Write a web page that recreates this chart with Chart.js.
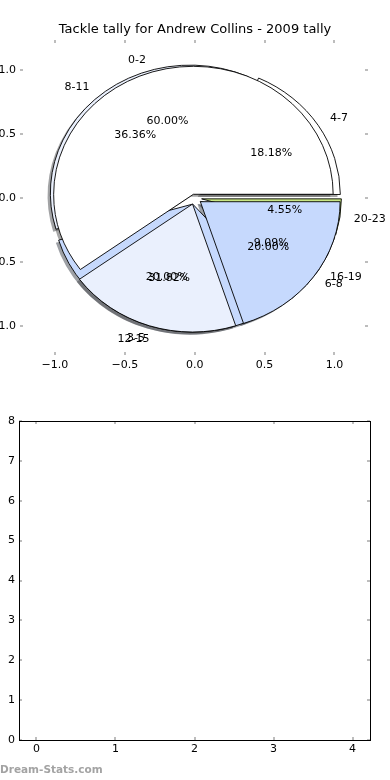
<!DOCTYPE html>
<html>
<head>
<meta charset="utf-8">
<script src="https://cdn.jsdelivr.net/npm/chart.js@4.4.1/dist/chart.umd.min.js"></script>
<style>
body { margin: 0; background: #fff; width: 390px; height: 780px; position: relative; overflow: hidden; }
#chartTop { position: absolute; left: 0; top: 0; }
#chartBottom { position: absolute; left: 0; top: 390px; }
#mark { position: absolute; left: 0; top: 763px; font: bold 10.5px "DejaVu Sans"; color: #a3a3a3; white-space: nowrap; }
</style>
</head>
<body>
<canvas id="chartTop" width="390" height="390"></canvas>
<canvas id="chartBottom" width="390" height="390"></canvas>
<div id="mark">Dream-Stats.com</div>
<script>
var chartTitle = "Tackle tally for Andrew Collins - 2009 tally";

// first pie (drawn on top)
var labelsA = ["0-2", "3-5", "6-8"];
var tallyA = [3, 1, 1];
// second pie (drawn underneath)
var labelsB = ["4-7", "8-11", "12-15", "16-19", "20-23"];
var tallyB = [4, 8, 7, 2, 1];

var pieTicks = [-1.0, -0.5, 0.0, 0.5, 1.0];
var bottomTicksX = [0, 1, 2, 3, 4];
var bottomTicksY = [0, 1, 2, 3, 4, 5, 6, 7, 8];

// styles
var coloursA = ['#ffffff', '#eaf0fd', '#c6d9fd'];
var coloursB = ['#ffffff', '#eaf0fd', '#c6d9fd', '#c6d9fd', '#c8e682'];
var explodeA = [0.03, 0.05, 0.05];
var explodeB = [0.05, 0.05, 0.05, 0.05, 0.05];

Chart.defaults.font.family = 'DejaVu Sans';
Chart.defaults.color = '#000';

function fmtTick(v) {
    var s = Math.abs(v).toFixed(1);
    return v < 0 ? '\u2212' + s : s;
}

function buildWedges(tally, explode) {
    var total = 0;
    for (var i = 0; i < tally.length; i++) total += tally[i];
    var list = [], start = 0;
    for (var i = 0; i < tally.length; i++) {
        var end = start + 360 * tally[i] / total;
        var mid = (start + end) / 2 * Math.PI / 180;
        list.push({
            a1: start, a2: end, mid: mid,
            dx: explode[i] * Math.cos(mid), dy: explode[i] * Math.sin(mid),
            pct: 100 * tally[i] / total
        });
        start = end;
    }
    return list;
}

function wedgePath(ctx, cx, cy, rx, ry, a1, a2) {
    ctx.beginPath();
    ctx.moveTo(cx, cy);
    ctx.ellipse(cx, cy, rx, ry, 0, -a1 * Math.PI / 180, -a2 * Math.PI / 180, true);
    ctx.closePath();
}

function shadowColour(hex) {
    var r = parseInt(hex.substr(1, 2), 16), g = parseInt(hex.substr(3, 2), 16), b = parseInt(hex.substr(5, 2), 16);
    return 'rgba(' + Math.round(r * 0.3) + ',' + Math.round(g * 0.3) + ',' + Math.round(b * 0.3) + ',0.5)';
}

var piePlugin = {
    id: 'pies',
    afterDatasetsDraw: function (chart) {
        var ctx = chart.ctx, xs = chart.scales.x, ys = chart.scales.y;
        var rx = xs.getPixelForValue(1) - xs.getPixelForValue(0);
        var ry = ys.getPixelForValue(0) - ys.getPixelForValue(1);
        var pies = [
            { w: buildWedges(tallyB, explodeB), c: coloursB, l: labelsB },
            { w: buildWedges(tallyA, explodeA), c: coloursA, l: labelsA }
        ];
        ctx.save();
        // shadows
        pies.forEach(function (p) {
            p.w.forEach(function (w, i) {
                wedgePath(ctx, xs.getPixelForValue(w.dx - 0.02), ys.getPixelForValue(w.dy - 0.02), rx, ry, w.a1, w.a2);
                ctx.fillStyle = shadowColour(p.c[i]);
                ctx.fill();
            });
        });
        // wedges
        pies.forEach(function (p) {
            p.w.forEach(function (w, i) {
                wedgePath(ctx, xs.getPixelForValue(w.dx), ys.getPixelForValue(w.dy), rx, ry, w.a1, w.a2);
                ctx.fillStyle = p.c[i];
                ctx.fill();
                ctx.lineWidth = 0.9;
                ctx.strokeStyle = '#000';
                ctx.stroke();
            });
        });
        // texts
        ctx.font = '11px "DejaVu Sans"';
        ctx.fillStyle = '#000';
        ctx.textBaseline = 'middle';
        pies.forEach(function (p) {
            p.w.forEach(function (w, i) {
                var xt = w.dx + 1.1 * Math.cos(w.mid), yt = w.dy + 1.1 * Math.sin(w.mid);
                ctx.textAlign = xt > 0 ? 'left' : 'right';
                ctx.fillText(p.l[i], xs.getPixelForValue(xt), ys.getPixelForValue(yt));
                var xp = w.dx + 0.6 * Math.cos(w.mid), yp = w.dy + 0.6 * Math.sin(w.mid);
                ctx.textAlign = 'center';
                ctx.fillText(w.pct.toFixed(2) + '%', xs.getPixelForValue(xp), ys.getPixelForValue(yp));
            });
        });
        ctx.restore();
    }
};

// small grey tick marks pointing inwards on all four sides
var tickPlugin = {
    id: 'mplTicks',
    afterDraw: function (chart) {
        var ctx = chart.ctx, a = chart.chartArea, xs = chart.scales.x, ys = chart.scales.y;
        ctx.save();
        ctx.strokeStyle = '#bdbdbd';
        ctx.lineWidth = 2;
        ctx.beginPath();
        xs.ticks.forEach(function (t) {
            var px = Math.round(xs.getPixelForValue(t.value));
            ctx.moveTo(px, a.bottom); ctx.lineTo(px, a.bottom - 3);
            ctx.moveTo(px, a.top); ctx.lineTo(px, a.top + 3);
        });
        ys.ticks.forEach(function (t) {
            var py = Math.round(ys.getPixelForValue(t.value));
            ctx.moveTo(a.left, py); ctx.lineTo(a.left + 3, py);
            ctx.moveTo(a.right, py); ctx.lineTo(a.right - 3, py);
        });
        ctx.stroke();
        if (chart.options.plugins.mplTicks && chart.options.plugins.mplTicks.frame) {
            ctx.strokeStyle = '#000';
            ctx.lineWidth = 1;
            ctx.strokeRect(a.left + 0.5, a.top + 0.5, a.right - a.left, a.bottom - a.top);
        }
        ctx.restore();
    }
};

function axis(min, max, ticks, pos, size, fmt, pad) {
    return {
        type: 'linear', position: pos, min: min, max: max,
        grid: { display: false, drawTicks: false }, border: { display: false },
        ticks: { font: { size: 11 }, color: '#000', padding: pad, callback: fmt, maxRotation: 0 },
        afterBuildTicks: function (s) { s.ticks = ticks.map(function (v) { return { value: v }; }); },
        afterFit: function (s) { if (pos == 'left' || pos == 'right') s.width = size; else s.height = size; }
    };
}

function spacer(size) {
    return {
        type: 'linear', position: 'right', display: true,
        grid: { display: false, drawTicks: false }, border: { display: false }, ticks: { display: false },
        afterFit: function (s) { s.width = size; }
    };
}

var chartTop = new Chart(document.getElementById('chartTop').getContext('2d'), {
    type: 'scatter',
    data: { datasets: [{ data: [] }] },
    options: {
        responsive: false,
        animation: false,
        events: [],
        layout: { padding: 0 },
        plugins: {
            legend: { display: false },
            tooltip: { enabled: false },
            title: {
                display: true, text: chartTitle, color: '#000',
                font: { size: 13, weight: 'normal', lineHeight: 1.2 },
                padding: { top: 22, bottom: 2.4 }
            },
            mplTicks: { frame: false }
        },
        scales: {
            x: axis(-1.25, 1.24, pieTicks, 'bottom', 35, fmtTick, 4),
            y: axis(-1.227, 1.234, pieTicks, 'left', 20, fmtTick, 4),
            y2: spacer(22)
        }
    },
    plugins: [piePlugin, tickPlugin]
});

var chartBottom = new Chart(document.getElementById('chartBottom').getContext('2d'), {
    type: 'scatter',
    data: { datasets: [{ data: [] }] },
    options: {
        responsive: false,
        animation: false,
        events: [],
        layout: { padding: { top: 31 } },
        plugins: {
            legend: { display: false },
            tooltip: { enabled: false },
            mplTicks: { frame: true }
        },
        scales: {
            x: axis(-0.22, 4.22, bottomTicksX, 'bottom', 40, function (v) { return String(v); }, 3),
            y: axis(0, 8, bottomTicksY, 'left', 19, function (v) { return String(v); }, 4),
            y2: spacer(20)
        }
    },
    plugins: [tickPlugin]
});
</script>
</body>
</html>
